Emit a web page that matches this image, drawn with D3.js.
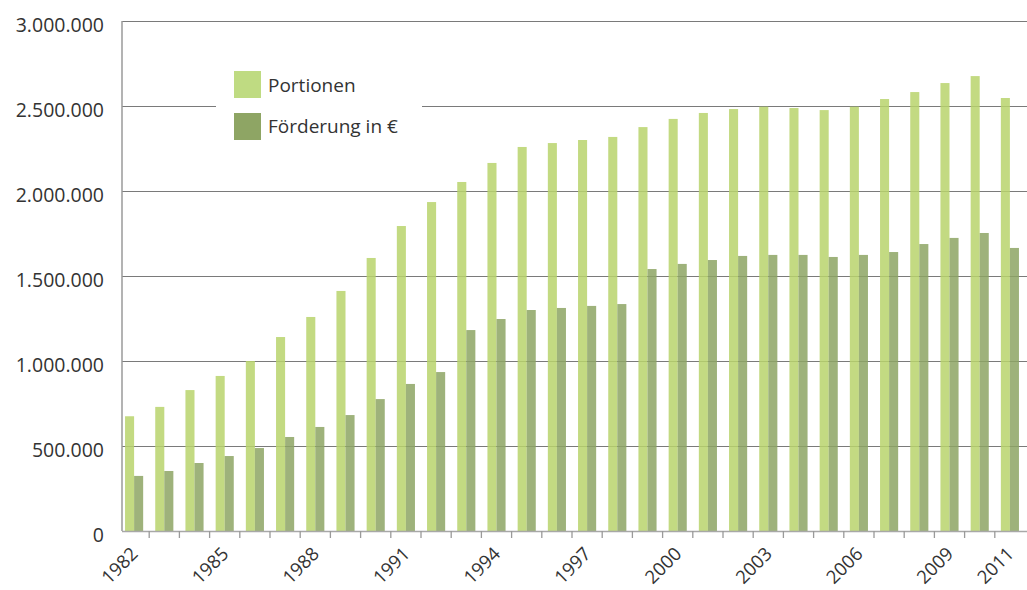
<!DOCTYPE html>
<html>
<head>
<meta charset="utf-8">
<script src="https://cdn.jsdelivr.net/npm/d3@7"></script>
<style>
  html, body { margin: 0; padding: 0; background: #fff; }
  svg { display: block; font-family: "Open Sans", sans-serif; }
</style>
</head>
<body>
<svg id="chart" width="1027" height="590"></svg>
<script>
// Jahre
const years = d3.range(1982, 2012).map(String);

// Ausgegebene Portionen pro Jahr
const portionen = [
  675000, 730000, 829000, 912000, 1000000, 1141000, 1259000, 1412000, 1606000, 1794000,
  1935000, 2053000, 2165000, 2259000, 2282000, 2300000, 2318000, 2376000, 2424000, 2459000,
  2482000, 2496000, 2488000, 2476000, 2496000, 2541000, 2582000, 2635000, 2676000, 2547000
];

// Förderung in Euro pro Jahr
const foerderung = [
  324000, 353000, 400000, 441000, 488000, 553000, 612000, 682000, 776000, 865000,
  935000, 1182000, 1247000, 1300000, 1312000, 1324000, 1335000, 1541000, 1571000, 1594000,
  1618000, 1624000, 1624000, 1612000, 1624000, 1641000, 1688000, 1724000, 1753000, 1665000
];

const seriesNames = ["Portionen", "Förderung in €"];
const yTicks = [0, 500000, 1000000, 1500000, 2000000, 2500000, 3000000];
const xLabels = ["1982", "1985", "1988", "1991", "1994", "1997", "2000", "2003", "2006", "2009", "2011"];

const barColors = ["#b9d46c", "#8da564"];
const swatchColors = ["#bfdb82", "#8ea564"];

const svg = d3.select("#chart");
const plotLeft = 122, plotRight = 1027, plotTop = 21, plotBottom = 531;

const x = d3.scaleBand().domain(years).range([119, 1025]).paddingInner(0.4).paddingOuter(0.2);
const xs = d3.scaleBand().domain([0, 1]).range([0, x.bandwidth()]);
const y = d3.scaleLinear().domain([0, 3000000]).range([plotBottom, plotTop]);

const fmt = v => d3.format(",")(v).replace(/,/g, ".");

// Gitterlinien
svg.append("g").selectAll("line").data(yTicks.filter(d => d > 0)).join("line")
  .attr("x1", plotLeft).attr("x2", plotRight)
  .attr("y1", d => Math.round(y(d)) + 0.5).attr("y2", d => Math.round(y(d)) + 0.5)
  .attr("stroke", "#7a7a7a").attr("stroke-width", 1.2);

// Y-Achsenbeschriftung
svg.append("g").selectAll("text").data(yTicks).join("text")
  .attr("x", 104).attr("y", d => y(d) + 11)
  .attr("text-anchor", "end")
  .attr("font-size", 19.5).attr("fill", "#333")
  .text(fmt);

// Balken
const data = years.map((yr, i) => ({ year: yr, values: [portionen[i], foerderung[i]] }));
const groups = svg.append("g").selectAll("g").data(data).join("g")
  .attr("transform", d => `translate(${x(d.year)},0)`);
groups.selectAll("rect").data(d => d.values.map((v, k) => ({ k, v }))).join("rect")
  .attr("x", d => xs(d.k))
  .attr("width", xs.bandwidth())
  .attr("y", d => y(d.v))
  .attr("height", d => y(0) - y(d.v))
  .attr("fill", d => barColors[d.k])
  .attr("fill-opacity", 0.85);

// Achsen
svg.append("line").attr("x1", plotLeft).attr("x2", plotLeft).attr("y1", plotTop).attr("y2", plotBottom)
  .attr("stroke", "#9a9a9a").attr("stroke-width", 1.5);
svg.append("line").attr("x1", plotLeft).attr("x2", plotRight).attr("y1", plotBottom + 0.5).attr("y2", plotBottom + 0.5)
  .attr("stroke", "#a8a8a8").attr("stroke-width", 1.5);

// Teilstriche zwischen den Jahren
const gap = (x.step() - x.bandwidth()) / 2;
svg.append("g").selectAll("line").data(years.slice(1)).join("line")
  .attr("x1", d => x(d) - gap)
  .attr("x2", d => x(d) - gap)
  .attr("y1", plotBottom).attr("y2", plotBottom + 7)
  .attr("stroke", "#9a9a9a").attr("stroke-width", 1.3);

// X-Achsenbeschriftung
svg.append("g").selectAll("text").data(xLabels).join("text")
  .attr("transform", d => `translate(${x(d) + x.bandwidth() / 2 + 5},555) rotate(-45)`)
  .attr("text-anchor", "end")
  .attr("font-size", 18.5).attr("fill", "#333")
  .text(d => d);

// Legende
const legend = svg.append("g");
legend.append("rect").attr("x", 216).attr("y", 60).attr("width", 206).attr("height", 90).attr("fill", "#fff");
seriesNames.forEach((name, i) => {
  legend.append("rect").attr("x", 234).attr("y", 71 + i * 42).attr("width", 27).attr("height", 27)
    .attr("fill", swatchColors[i]);
  legend.append("text").attr("x", 268).attr("y", 92 + i * 41)
    .attr("font-size", 19).attr("fill", "#333").text(name);
});
</script>
</body>
</html>
